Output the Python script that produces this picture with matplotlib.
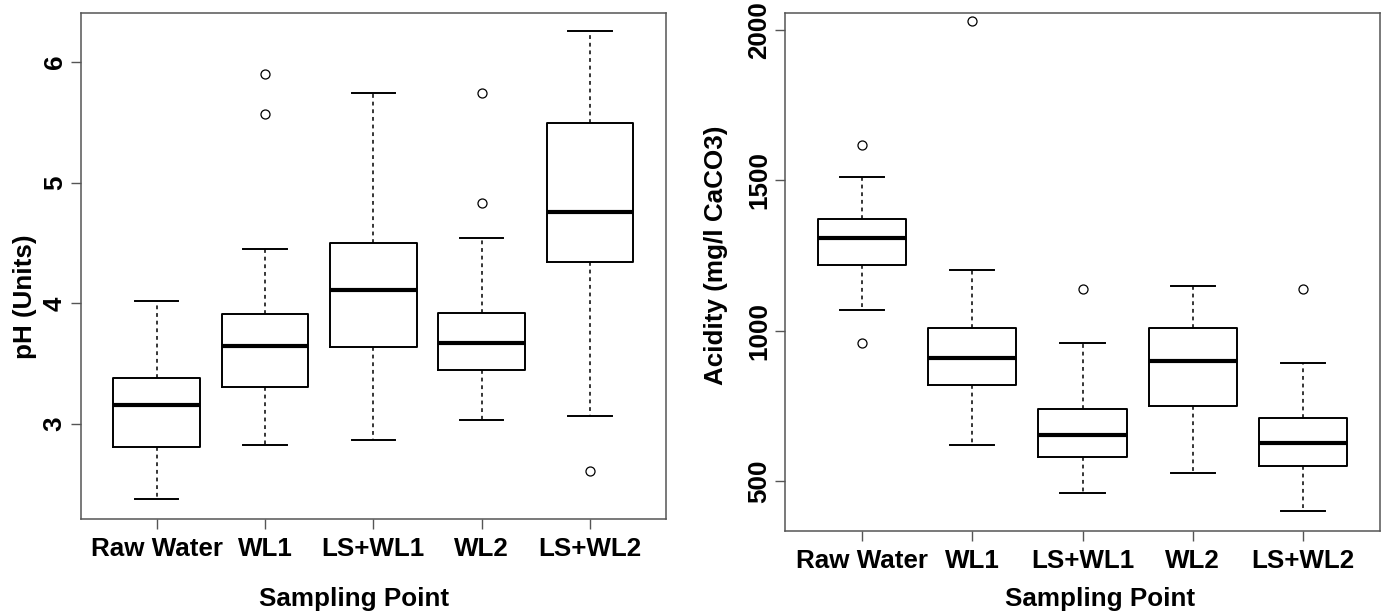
import matplotlib
matplotlib.use("Agg")
import matplotlib.pyplot as plt

plt.rcParams["font.family"] = ["Liberation Sans", "DejaVu Sans"]
plt.rcParams["font.weight"] = "bold"

labels = ["Raw Water", "WL1", "LS+WL1", "WL2", "LS+WL2"]

# pH (Units)
ph_whislo = [2.38, 2.83, 2.87, 3.03, 3.07]
ph_q1 = [2.81, 3.31, 3.64, 3.45, 4.34]
ph_med = [3.16, 3.65, 4.11, 3.67, 4.76]
ph_q3 = [3.38, 3.91, 4.50, 3.92, 5.49]
ph_whishi = [4.02, 4.45, 5.74, 4.54, 6.26]
ph_fliers = [[], [5.90, 5.57], [], [5.74, 4.83], [2.61]]

# Acidity (mg/l CaCO3)
ac_whislo = [1068, 622, 460, 529, 401]
ac_q1 = [1220, 820, 581, 751, 552]
ac_med = [1310, 911, 653, 899, 629]
ac_q3 = [1372, 1009, 739, 1009, 710]
ac_whishi = [1510, 1202, 960, 1150, 892]
ac_fliers = [[1618, 960], [2029], [1139], [], [1139]]

FRAME = "#555555"
FS = 18.7


def make_stats(whislo, q1, med, q3, whishi, fliers):
    return [dict(label=lab, whislo=a, q1=b, med=c, q3=d, whishi=e, fliers=f)
            for lab, a, b, c, d, e, f in zip(labels, whislo, q1, med, q3, whishi, fliers)]


def draw_box(ax, stats, ylim, yticks):
    ax.bxp(stats, positions=range(1, len(stats) + 1), widths=0.8, capwidths=0.4,
           boxprops=dict(color="black", linewidth=1.4),
           medianprops=dict(color="black", linewidth=3.0, solid_capstyle="butt"),
           whiskerprops=dict(color="black", linewidth=1.1, linestyle=(0, (2.5, 2.5))),
           capprops=dict(color="black", linewidth=1.4),
           flierprops=dict(marker="o", markerfacecolor="none", markeredgecolor="black",
                           markersize=6.5, markeredgewidth=0.9))
    ax.set_xlim(0.3, 5.7)
    ax.set_ylim(*ylim)
    ax.set_yticks(yticks)
    ax.set_yticklabels([str(t) for t in yticks], rotation=90, va="center")
    ax.tick_params(axis="both", length=7, width=1.0, color=FRAME, labelsize=FS)
    ax.tick_params(axis="x", pad=6)
    ax.tick_params(axis="y", pad=3)
    for sp in ax.spines.values():
        sp.set_color(FRAME)
        sp.set_linewidth(1.1)
    for lab in ax.get_xticklabels() + ax.get_yticklabels():
        lab.set_fontweight("bold")


fig = plt.figure(figsize=(13.87, 6.14), dpi=100)
fig.patch.set_facecolor("white")

ax1 = fig.add_axes([80.7 / 1387, 1 - 519 / 614, (666 - 80.7) / 1387, (519 - 12.7) / 614])
ax2 = fig.add_axes([785 / 1387, 1 - 530.7 / 614, (1380 - 785) / 1387, (530.7 - 12.7) / 614])

draw_box(ax1, make_stats(ph_whislo, ph_q1, ph_med, ph_q3, ph_whishi, ph_fliers),
         (2.213, 6.408), [3, 4, 5, 6])
draw_box(ax2, make_stats(ac_whislo, ac_q1, ac_med, ac_q3, ac_whishi, ac_fliers),
         (336, 2057), [500, 1000, 1500, 2000])

fig.text(25 / 1387, 1 - 297 / 614, "pH (Units)", rotation=90, ha="center", va="center",
         fontsize=FS, fontweight="bold")
fig.text(716 / 1387, 1 - 255 / 614, "Acidity (mg/l CaCO3)", rotation=90, ha="center",
         va="center", fontsize=FS, fontweight="bold")
fig.text(354 / 1387, 1 - 599 / 614, "Sampling Point", ha="center", va="center",
         fontsize=FS, fontweight="bold")
fig.text(1100 / 1387, 1 - 599 / 614, "Sampling Point", ha="center", va="center",
         fontsize=FS, fontweight="bold")

fig.savefig("out.png", dpi=100, facecolor="white")
